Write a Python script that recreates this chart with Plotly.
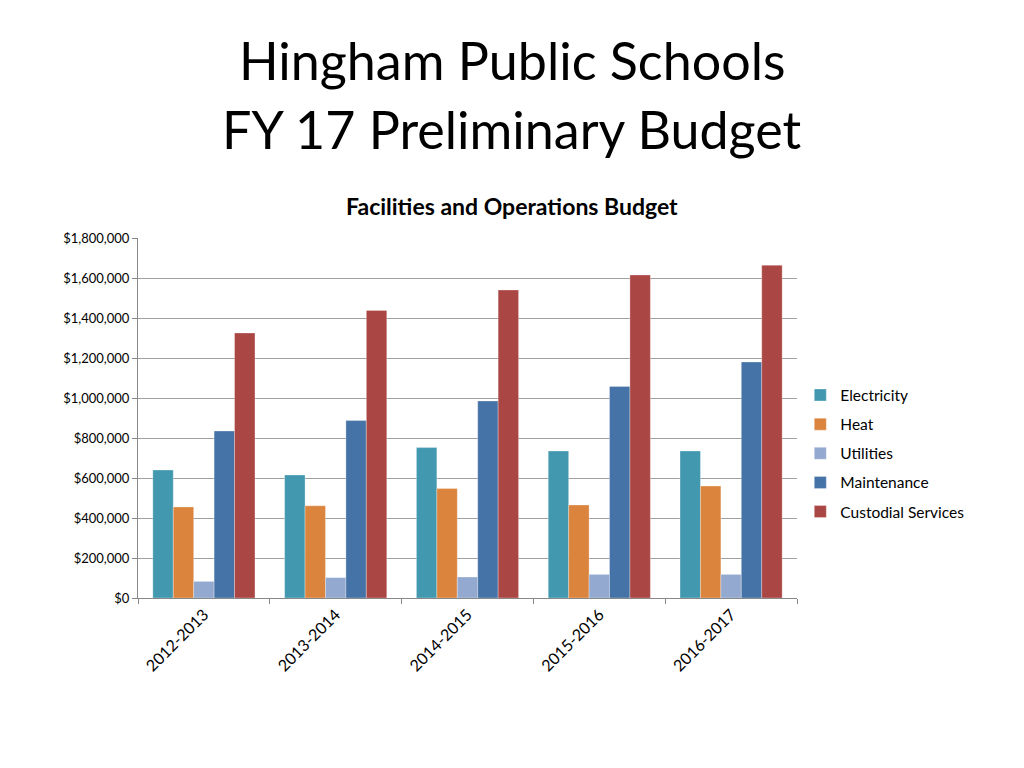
import plotly.graph_objects as go

# data
years = ["2012-2013", "2013-2014", "2014-2015", "2015-2016", "2016-2017"]
electricity = [640000, 615000, 752000, 735000, 735000]
heat = [455000, 461000, 547000, 465000, 560000]
utilities = [83000, 102000, 105000, 118000, 118000]
maintenance = [835000, 887000, 985000, 1058000, 1180000]
custodial = [1325000, 1438000, 1540000, 1615000, 1664000]

y_ticks = list(range(0, 1800001, 200000))
y_tick_text = [f"${v:,}" for v in y_ticks]

_COLORS = {
    "Electricity": "#4198AF",
    "Heat": "#DB843D",
    "Utilities": "#93A9CF",
    "Maintenance": "#4572A7",
    "Custodial Services": "#AA4643",
}

series = [
    ("Electricity", electricity),
    ("Heat", heat),
    ("Utilities", utilities),
    ("Maintenance", maintenance),
    ("Custodial Services", custodial),
]

fig = go.Figure()
for name, vals in series:
    fig.add_trace(go.Bar(
        x=years, y=vals, name=name, legendgroup=name,
        marker=dict(color=_COLORS[name], line=dict(color="rgba(255,255,255,0.6)", width=0.5)),
    ))

FONT = "Lato, Carlito, Calibri, sans-serif"
# page body has an 8px margin, so the figure is a bit smaller than the window
W, H = 1016, 760
PLOT_TOP = 230
x_center = 0.5 + (512 - 467.5) / 659

fig.update_layout(
    width=W, height=H,
    paper_bgcolor="white", plot_bgcolor="white",
    margin=dict(l=130, r=227, t=PLOT_TOP, b=170),
    barmode="group", bargap=0.225, bargroupgap=0,
    font=dict(family=FONT, color="#000"),
    legend=dict(
        x=1.005, y=0.61, xanchor="left", yanchor="top",
        font=dict(size=15.5), tracegroupgap=6, bgcolor="rgba(0,0,0,0)",
    ),
    annotations=[
        dict(text="Hingham Public Schools", x=x_center, y=1, xref="paper", yref="paper",
             xanchor="center", yanchor="middle", yshift=238 - 62 + 2,
             showarrow=False, font=dict(size=52, family=FONT)),
        dict(text="FY 17 Preliminary Budget", x=x_center, y=1, xref="paper", yref="paper",
             xanchor="center", yanchor="middle", yshift=238 - 132 + 3,
             showarrow=False, font=dict(size=52, family=FONT)),
        dict(text="<b>Facilities and Operations Budget</b>", x=x_center, y=1,
             xref="paper", yref="paper", xanchor="center", yanchor="middle", yshift=238 - 206,
             showarrow=False, font=dict(size=23, family=FONT)),
    ],
)

fig.update_yaxes(
    range=[0, 1800000], tickvals=y_ticks, ticktext=y_tick_text,
    showgrid=True, gridcolor="#a0a0a0", gridwidth=1,
    showline=True, linecolor="#888", linewidth=1,
    ticks="outside", ticklen=5, tickcolor="#888",
    tickfont=dict(size=13), zeroline=False,
)
fig.update_xaxes(
    showline=True, linecolor="#888", linewidth=1,
    ticks="outside", ticklen=5, tickcolor="#888", tickson="boundaries",
    tickangle=-45, tickfont=dict(size=16),
)

fig.write_html("out.html")
